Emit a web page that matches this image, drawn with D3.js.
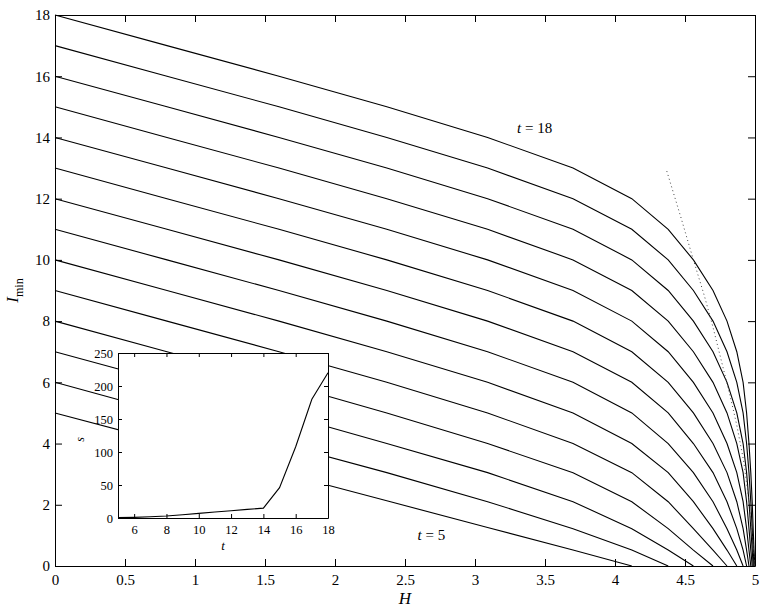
<!DOCTYPE html>
<html>
<head>
<meta charset="utf-8">
<script src="https://d3js.org/d3.v7.min.js"></script>
<style>
  body { margin: 0; background: #fff; }
  svg, svg text { font-family: "Liberation Serif", "Times New Roman", Times, "DejaVu Serif", serif; }
  .axis path, .axis line { stroke: #000; }
  .axis text { fill: #000; }
  .main-axis text { font-size: 15px; }
  .inset-axis text { font-size: 12.5px; }
</style>
</head>
<body>
<div id="chart"></div>
<script>

// H values where the curves have their corners
var hGrid = [0, 0.80, 1.60, 2.37, 3.09, 3.70, 4.12, 4.38, 4.56, 4.70,
             4.80, 4.87, 4.915, 4.94, 4.957, 4.970, 4.980, 4.987, 4.993, 5.0];

var tValues = [5, 6, 7, 8, 9, 10, 11, 12, 13, 14, 15, 16, 17, 18];

// I_min at each hGrid point, one list per t
var iT5  = [5, 4.03, 3.06, 2.13, 1.26, 0.52, 0];
var iT6  = [6, 5, 4, 3.05, 2.1, 1.22, 0.52, 0];
var iT7  = [7, 6, 5, 4, 3.05, 2.1, 1.22, 0.52, 0];
var iT8  = [8, 7, 6, 5, 4, 3.05, 2.1, 1.22, 0.52, 0];
var iT9  = [9, 8, 7, 6, 5, 4, 3.05, 2.1, 1.22, 0.52, 0];
var iT10 = [10, 9, 8, 7, 6, 5, 4, 3.05, 2.1, 1.22, 0.52, 0];
var iT11 = [11, 10, 9, 8, 7, 6, 5, 4, 3.05, 2.1, 1.22, 0.52, 0];
var iT12 = [12, 11, 10, 9, 8, 7, 6, 5, 4, 3.05, 2.1, 1.22, 0.52, 0];
var iT13 = [13, 12, 11, 10, 9, 8, 7, 6, 5, 4, 3.05, 2.1, 1.22, 0.52, 0];
var iT14 = [14, 13, 12, 11, 10, 9, 8, 7, 6, 5, 4, 3.05, 2.1, 1.22, 0.52, 0];
var iT15 = [15, 14, 13, 12, 11, 10, 9, 8, 7, 6, 5, 4, 3.05, 2.1, 1.22, 0.52, 0];
var iT16 = [16, 15, 14, 13, 12, 11, 10, 9, 8, 7, 6, 5, 4, 3.05, 2.1, 1.22, 0.52, 0];
var iT17 = [17, 16, 15, 14, 13, 12, 11, 10, 9, 8, 7, 6, 5, 4, 3.05, 2.1, 1.22, 0.52, 0];
var iT18 = [18, 17, 16, 15, 14, 13, 12, 11, 10, 9, 8, 7, 6, 5, 4, 3.05, 2.1, 1.22, 0.52, 0];

// dotted curve
var dotH = [4.37, 4.47, 4.56, 4.64, 4.70, 4.76, 4.82, 4.87, 4.92, 4.96, 5.0];
var dotI = [12.9, 11.4, 10.0, 8.8, 7.8, 6.7, 5.6, 4.6, 3.4, 2.0, 0];

// inset: s against t
var insetT = [5, 6, 7, 8, 9, 10, 11, 12, 13, 14, 15, 16, 17, 18];
var insetS = [0.5, 1, 2, 3, 5, 7, 9, 11, 13, 15, 46, 108, 180, 220];

var xTicks = [0, 0.5, 1, 1.5, 2, 2.5, 3, 3.5, 4, 4.5, 5];
var yTicks = [0, 2, 4, 6, 8, 10, 12, 14, 16, 18];
var insetXTicks = [6, 8, 10, 12, 14, 16, 18];
var insetYTicks = [0, 50, 100, 150, 200, 250];

var serif = '"Liberation Serif", "Times New Roman", Times, "DejaVu Serif", serif';

var margin = { left: 55, right: 8, top: 15, bottom: 43 };
var width = 763 - margin.left - margin.right;
var height = 609 - margin.top - margin.bottom;

var svg = d3.select("#chart")
  .append("svg")
    .attr("width", 763)
    .attr("height", 609)
    .attr("font-family", serif);

var g = svg.append("g")
  .attr("transform", "translate(" + margin.left + "," + margin.top + ")");

var x = d3.scaleLinear().domain([0, 5]).range([0, width]);
var y = d3.scaleLinear().domain([0, 18]).range([height, 0]);

var curves = [iT5, iT6, iT7, iT8, iT9, iT10, iT11, iT12, iT13, iT14, iT15, iT16, iT17, iT18]
  .map(function (vals, n) {
    return { t: tValues[n], pts: vals.map(function (v, k) { return { h: hGrid[k], i: v }; }) };
  });

var line = d3.line()
  .x(function (d) { return x(d.h); })
  .y(function (d) { return y(d.i); });

g.selectAll(".curve")
  .data(curves).enter()
  .append("path")
    .attr("class", "curve")
    .attr("d", function (d) { return line(d.pts); })
    .attr("fill", "none")
    .attr("stroke", "#000")
    .attr("stroke-width", 1.1);

var dotPts = dotH.map(function (h, k) { return { h: h, i: dotI[k] }; });
g.append("path")
  .attr("d", line(dotPts))
  .attr("fill", "none")
  .attr("stroke", "#444")
  .attr("stroke-width", 1)
  .attr("stroke-dasharray", "1,3");

// curve labels
function tLabel(h, i, txt) {
  var tx = g.append("text")
    .attr("x", x(h))
    .attr("y", y(i))
    .attr("font-family", serif)
    .attr("font-size", 15);
  tx.append("tspan").attr("font-style", "italic").text("t");
  tx.append("tspan").text(" = " + txt);
}
tLabel(3.3, 14.13, "18");
tLabel(2.59, 0.85, "5");

// main axes, ticks pointing inwards on all sides
function fmt(d) { return String(d); }

g.append("g")
  .attr("class", "axis main-axis")
  .attr("transform", "translate(0," + height + ")")
  .call(d3.axisBottom(x).tickValues(xTicks).tickSize(-7).tickSizeOuter(0)
    .tickPadding(8).tickFormat(fmt));

g.append("g")
  .attr("class", "axis main-axis")
  .call(d3.axisTop(x).tickValues(xTicks).tickSize(-7).tickSizeOuter(0).tickFormat(""));

g.append("g")
  .attr("class", "axis main-axis")
  .call(d3.axisLeft(y).tickValues(yTicks).tickSize(-7).tickSizeOuter(0)
    .tickPadding(5).tickFormat(fmt));

g.append("g")
  .attr("class", "axis main-axis")
  .attr("transform", "translate(" + width + ",0)")
  .call(d3.axisRight(y).tickValues(yTicks).tickSize(-7).tickSizeOuter(0).tickFormat(""));

svg.selectAll(".axis").attr("font-family", serif);

// axis titles
g.append("text")
  .attr("x", x(2.5))
  .attr("y", height + 38)
  .attr("text-anchor", "middle")
  .attr("font-size", 17)
  .attr("font-style", "italic")
  .text("H");

var yl = g.append("text")
  .attr("transform", "translate(-37," + (height / 2) + ") rotate(-90)")
  .attr("text-anchor", "middle")
  .attr("font-size", 17);
yl.append("tspan").attr("font-style", "italic").text("I");
yl.append("tspan").attr("font-size", 12).attr("dy", 5).text("min");

// inset
var inset = { left: 118, top: 353, width: 210, height: 165 };

var ig = svg.append("g")
  .attr("transform", "translate(" + inset.left + "," + inset.top + ")");

ig.append("rect")
  .attr("x", 0).attr("y", 0)
  .attr("width", inset.width).attr("height", inset.height)
  .attr("fill", "#fff");

var ix = d3.scaleLinear().domain([5, 18]).range([0, inset.width]);
var iy = d3.scaleLinear().domain([0, 250]).range([inset.height, 0]);

var insetPts = insetT.map(function (t, k) { return { t: t, s: insetS[k] }; });

ig.append("path")
  .attr("d", d3.line()
    .x(function (d) { return ix(d.t); })
    .y(function (d) { return iy(d.s); })(insetPts))
  .attr("fill", "none")
  .attr("stroke", "#000")
  .attr("stroke-width", 1.1);

ig.append("g")
  .attr("class", "axis inset-axis")
  .attr("transform", "translate(0," + inset.height + ")")
  .call(d3.axisBottom(ix).tickValues(insetXTicks).tickSize(-4).tickSizeOuter(0).tickPadding(7));

ig.append("g")
  .attr("class", "axis inset-axis")
  .call(d3.axisTop(ix).tickValues(insetXTicks).tickSize(-4).tickSizeOuter(0).tickFormat(""));

ig.append("g")
  .attr("class", "axis inset-axis")
  .call(d3.axisLeft(iy).tickValues(insetYTicks).tickSize(-4).tickSizeOuter(0).tickPadding(5));

ig.append("g")
  .attr("class", "axis inset-axis")
  .attr("transform", "translate(" + inset.width + ",0)")
  .call(d3.axisRight(iy).tickValues(insetYTicks).tickSize(-4).tickSizeOuter(0).tickFormat(""));

ig.selectAll(".axis").attr("font-family", serif);

ig.append("text")
  .attr("x", ix(11.5))
  .attr("y", inset.height + 32)
  .attr("text-anchor", "middle")
  .attr("font-size", 13)
  .attr("font-style", "italic")
  .text("t");

ig.append("text")
  .attr("transform", "translate(-34," + (inset.height / 2 + 4) + ") rotate(-90)")
  .attr("text-anchor", "middle")
  .attr("font-size", 12)
  .attr("font-style", "italic")
  .text("s");

</script>
</body>
</html>
